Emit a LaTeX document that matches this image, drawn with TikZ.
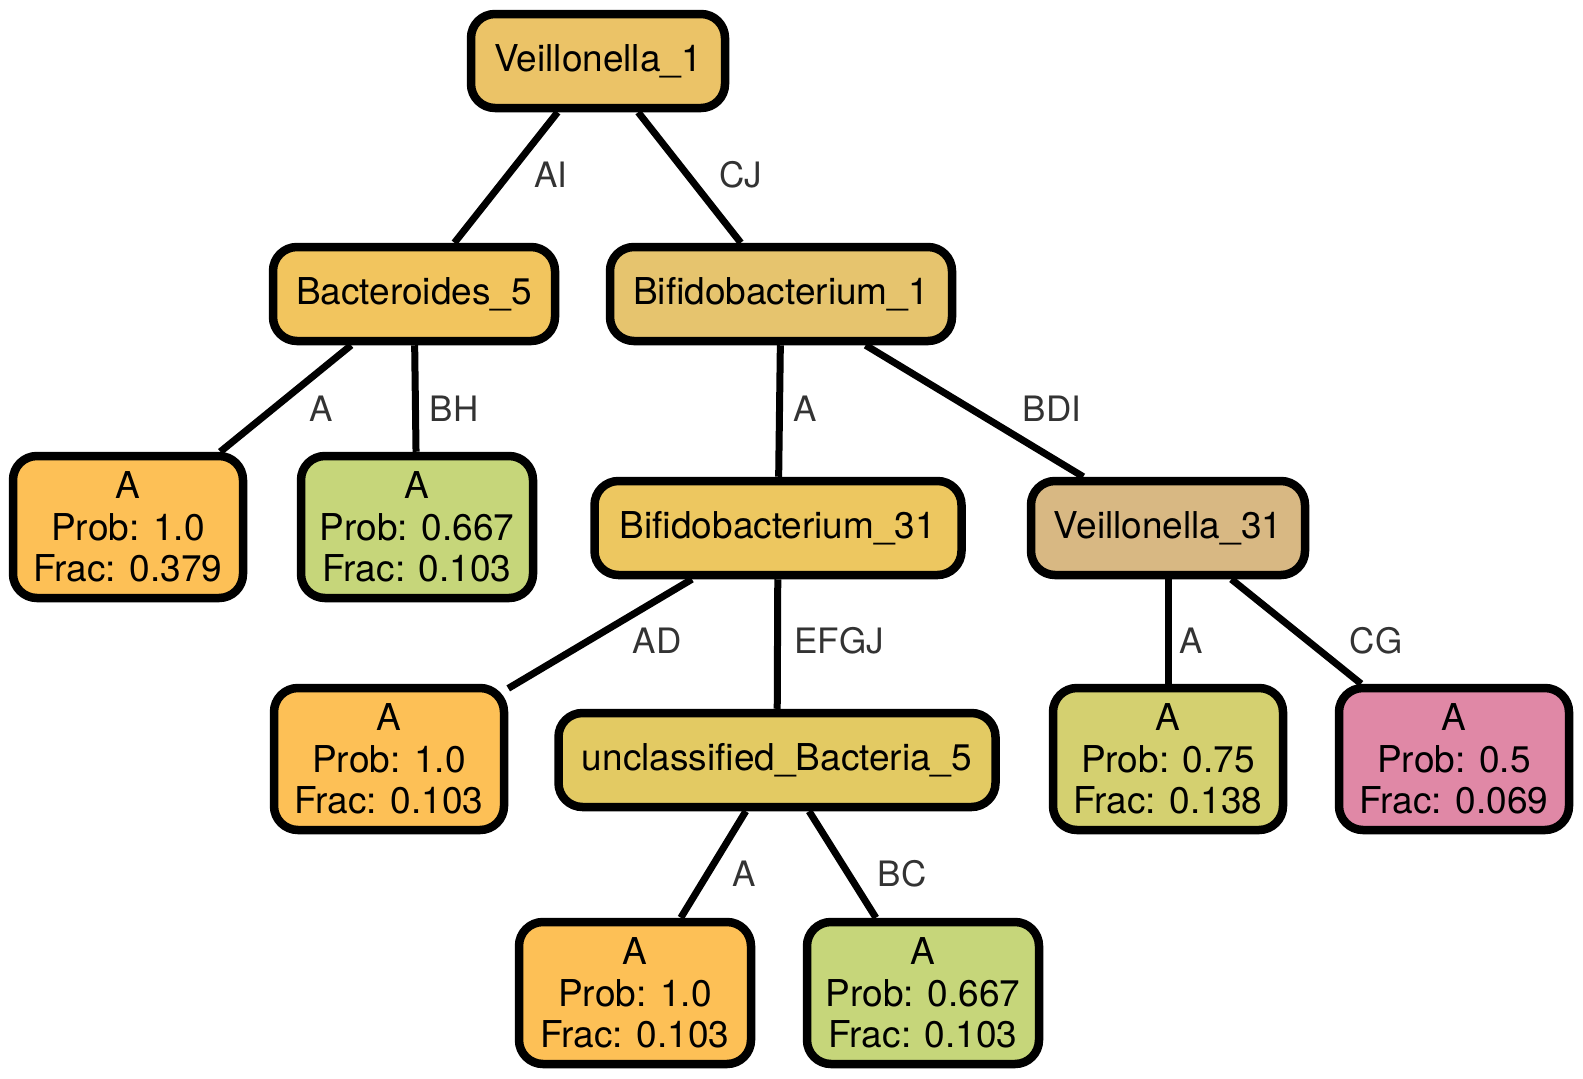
\documentclass[tikz,border=0pt]{standalone}
\usepackage{fontspec}
\setmainfont{TeX Gyre Heros}
\definecolor{cV1}{HTML}{EBC367}
\definecolor{cB5}{HTML}{F2C55E}
\definecolor{cBf1}{HTML}{E6C46E}
\definecolor{cOr}{HTML}{FDC056}
\definecolor{cGr}{HTML}{C6D67A}
\definecolor{cBf31}{HTML}{EDC760}
\definecolor{cV31}{HTML}{D8B883}
\definecolor{cUB}{HTML}{E3CA63}
\definecolor{cYG}{HTML}{D4D070}
\definecolor{cPk}{HTML}{E088A6}
\definecolor{labgray}{HTML}{333333}
\tikzset{
  tbox/.style={draw=black, line width=8.5pt, rounded corners=24pt, rectangle,
    inner sep=0pt, align=center, font=\fontsize{37}{41.5}\selectfont},
  inode/.style={tbox, minimum height=94pt},
  leaf/.style={tbox, minimum height=142pt, minimum width=230pt},
  conn/.style={line width=7pt, black},
  elabel/.style={font=\fontsize{35}{40}\selectfont, text=labgray, inner sep=0pt}
}
\begin{document}
\begin{tikzpicture}[x=1pt,y=-1pt]
\useasboundingbox (0,0) rectangle (1583,1079);
\node[inode, fill=cV1, minimum width=254pt] (v1) at (598,61) {Veillonella\_1};
\node[inode, fill=cB5, minimum width=282pt] (b5) at (414,294) {Bacteroides\_5};
\node[inode, fill=cBf1, minimum width=342pt] (bf1) at (781,294) {Bifidobacterium\_1};
\node[leaf, fill=cOr] (l1) at (128,527) {A\\Prob: 1.0\\Frac: 0.379};
\node[leaf, fill=cGr, minimum width=232pt] (l2) at (417,527) {A\\Prob: 0.667\\Frac: 0.103};
\node[inode, fill=cBf31, minimum width=367pt] (bf31) at (778,528) {Bifidobacterium\_31};
\node[inode, fill=cV31, minimum width=274pt] (v31) at (1168,528) {Veillonella\_31};
\node[leaf, fill=cOr] (l3) at (389,759) {A\\Prob: 1.0\\Frac: 0.103};
\node[inode, fill=cUB, minimum width=437pt] (ub5) at (777,760) {unclassified\_Bacteria\_5};
\node[leaf, fill=cYG] (l4) at (1168,759) {A\\Prob: 0.75\\Frac: 0.138};
\node[leaf, fill=cPk] (l5) at (1454,759) {A\\Prob: 0.5\\Frac: 0.069};
\node[leaf, fill=cOr, minimum width=232pt] (l6) at (635,993) {A\\Prob: 1.0\\Frac: 0.103};
\node[leaf, fill=cGr, minimum width=232pt] (l7) at (923,993) {A\\Prob: 0.667\\Frac: 0.103};

\draw[conn] (v1) -- (b5);
\draw[conn] (v1) -- (bf1);
\draw[conn] (b5) -- (l1);
\draw[conn] (b5) -- (l2);
\draw[conn] (bf1) -- (bf31);
\draw[conn] (bf1) -- (v31);
\draw[conn] (bf31) -- (l3);
\draw[conn] (bf31) -- (ub5);
\draw[conn] (v31) -- (l4);
\draw[conn] (v31) -- (l5);
\draw[conn] (ub5) -- (l6);
\draw[conn] (ub5) -- (l7);

\node[elabel] (e1) at (551,175) {AI};
\node[elabel] (e2) at (741,175) {CJ};
\node[elabel] (e3) at (321,409) {A};
\node[elabel] (e4) at (454,409) {BH};
\node[elabel] (e5) at (805,409) {A};
\node[elabel] (e6) at (1052,409) {BDI};
\node[elabel] (e7) at (657,641) {AD};
\node[elabel] (e8) at (839,641) {EFGJ};
\node[elabel] (e9) at (1191,641) {A};
\node[elabel] (e10) at (1376,641) {CG};
\node[elabel] (e11) at (744,874) {A};
\node[elabel] (e12) at (902,874) {BC};
\end{tikzpicture}
\end{document}
